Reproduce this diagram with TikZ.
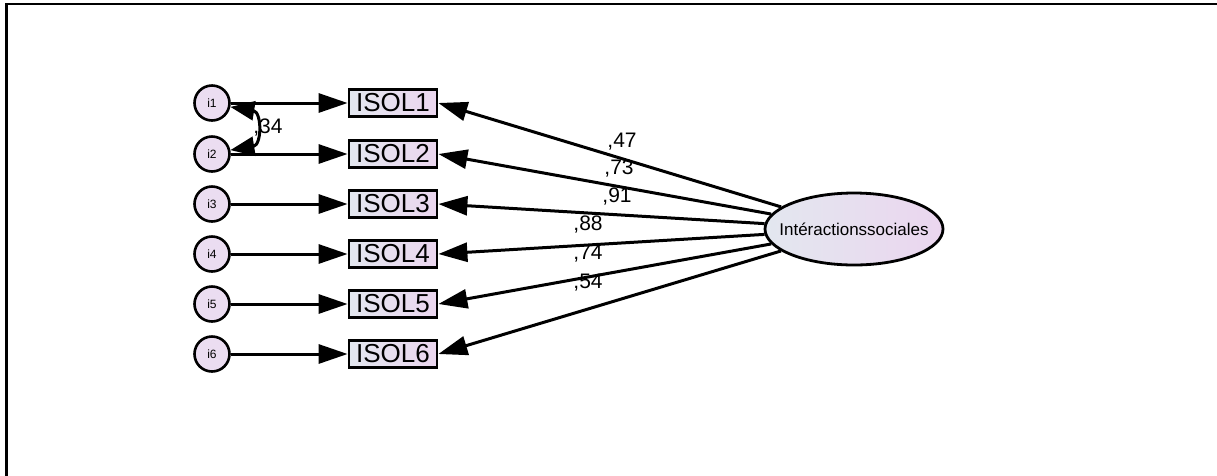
\documentclass[tikz,border=0pt]{standalone}
\usepackage{fontspec}
\setmainfont{Liberation Sans}
\usetikzlibrary{arrows.meta,shapes.geometric}
\definecolor{boxL}{HTML}{E3E7EF}
\definecolor{boxR}{HTML}{EBD6EF}
\definecolor{circ}{HTML}{EBDDF1}
\tikzset{
  obsbox/.style={draw, line width=2.8pt, minimum width=88pt, minimum height=27pt, inner sep=0pt,
    left color=boxL, right color=boxR, font=\fontsize{26}{26}\selectfont},
  errc/.style={draw, circle, line width=2.6pt, minimum size=35pt, inner sep=0pt, fill=circ,
    font=\fontsize{12}{12}\selectfont},
  latent/.style={draw, ellipse, line width=2.8pt, minimum width=178pt, minimum height=72pt,
    inner xsep=-13pt, inner ysep=0pt,
    left color=boxL, right color=boxR, font=\fontsize{17}{17}\selectfont},
  arr/.style={line width=3pt, -{Triangle[length=29pt,width=19pt]}},
  cov/.style={line width=3pt, {Triangle[length=24pt,width=19pt]}-{Triangle[length=24pt,width=19pt]}},
  coef/.style={font=\fontsize{21}{21}\selectfont, inner sep=0pt}
}
\begin{document}
\begin{tikzpicture}[x=1pt,y=-1pt]
\useasboundingbox (0,0) rectangle (1217,475);
\draw[line width=2.8pt] (6.2,476) -- (6.2,4) -- (1218,4);
\foreach \k/\y in {1/103,2/154,3/204,4/254,5/304,6/354}{
  \node[errc] (i\k) at (212,\y) {i\k};
  \node[obsbox] (b\k) at (393,\y) {ISOL\k};
  \draw[arr] (i\k) -- (b\k);
}
\node[latent] (F) at (854,229) {Intéractionssociales};
\foreach \k in {1,...,6}{
  \draw[arr] (F) -- (b\k.east);
}
\draw[cov] (i1.-12) .. controls (262,112) and (262,145) .. (i2.12);
\node[coef] (c0) at (268,128) {,34};
\node[coef] (c1) at (622,142) {,47};
\node[coef] (c2) at (619,169) {,73};
\node[coef] (c3) at (617,197) {,91};
\node[coef] (c4) at (588,225) {,88};
\node[coef] (c5) at (588,254) {,74};
\node[coef] (c6) at (588,283) {,54};
\end{tikzpicture}
\end{document}
